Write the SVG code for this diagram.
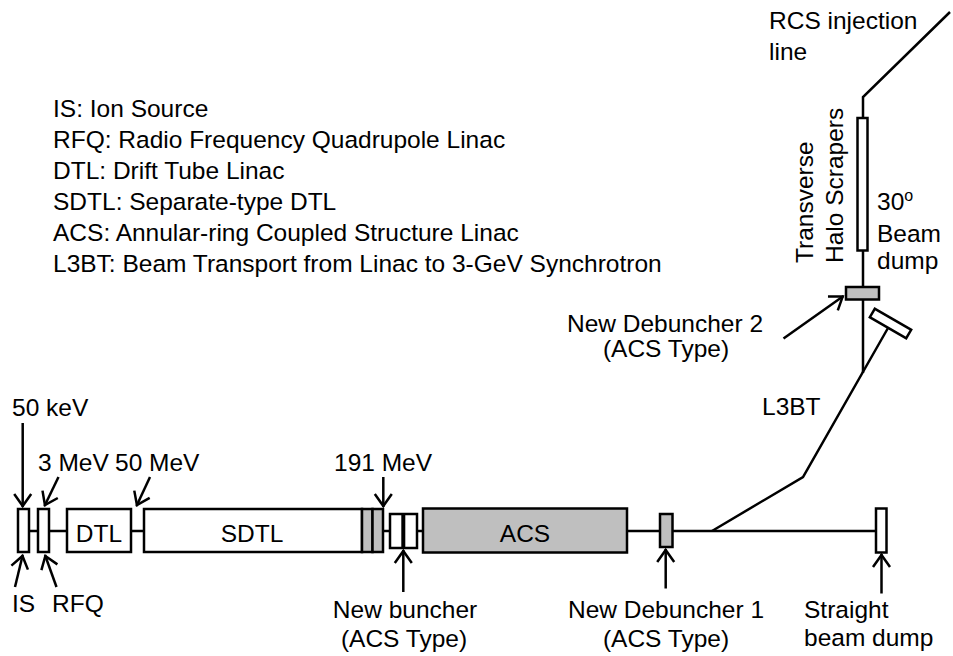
<svg xmlns="http://www.w3.org/2000/svg" width="953" height="656" viewBox="0 0 953 656">
<style>
text{font-family:"Liberation Sans",Arial,sans-serif;font-size:24.5px;fill:#000}
.c{text-anchor:middle}
.w{fill:#fff;stroke:#000;stroke-width:2.5}
.g{fill:#bfbfbf;stroke:#000;stroke-width:2.5}
.ln{fill:none;stroke:#000;stroke-width:2.5}
.ar{fill:none;stroke:#000;stroke-width:2.5;marker-end:url(#ah)}
</style>
<defs>
<marker id="ah" markerUnits="userSpaceOnUse" viewBox="-2 -11 17 22" refX="13" refY="0" markerWidth="17" markerHeight="22" orient="auto">
<path d="M0,-8.5 L12,0 L0,8.5" fill="none" stroke="#000" stroke-width="2.5"/>
</marker>
</defs>
<rect width="953" height="656" fill="#fff"/>
<g id="legend">
<text x="53" y="117">IS: Ion Source</text>
<text x="53" y="148">RFQ: Radio Frequency Quadrupole Linac</text>
<text x="53" y="179">DTL: Drift Tube Linac</text>
<text x="53" y="210">SDTL: Separate-type DTL</text>
<text x="53" y="241">ACS: Annular-ring Coupled Structure Linac</text>
<text x="53" y="271.5">L3BT: Beam Transport from Linac to 3-GeV Synchrotron</text>
</g>
<g id="connectors">
<path class="ln" d="M29,531H38M49,531H67M131,531H144M383,531H390M417,531H423M627,531H660M672.5,531H876"/>
<polyline class="ln" points="712,531 803,477 888,328"/>
<path class="ln" d="M863,373V299.5M863,287V250.5M863,118V97L950,12"/>
<line class="ar" x1="22.7" y1="423" x2="22.7" y2="507"/>
<line class="ar" x1="58.5" y1="477" x2="44.5" y2="506"/>
<line class="ar" x1="150" y1="477" x2="136.5" y2="506"/>
<line class="ar" x1="383.3" y1="477" x2="383.3" y2="507"/>
<line class="ar" x1="15" y1="587" x2="22.7" y2="555"/>
<line class="ar" x1="56.5" y1="587" x2="45" y2="555"/>
<line class="ar" x1="403.3" y1="592" x2="403.3" y2="550"/>
<line class="ar" x1="665.7" y1="588.5" x2="665.7" y2="549"/>
<line class="ar" x1="881.5" y1="593.5" x2="881.5" y2="554"/>
<line class="ar" x1="783.5" y1="338.5" x2="843.5" y2="296"/>
</g>
<g id="IS"><rect class="w" x="18" y="509" width="11" height="43"/></g>
<g id="RFQ"><rect class="w" x="38" y="509" width="11" height="43"/></g>
<g id="DTL"><rect class="w" x="67" y="509" width="64" height="43"/><text class="c" x="99" y="541.5">DTL</text></g>
<g id="SDTL"><rect class="w" x="144" y="509" width="218" height="43"/><rect class="g" x="362" y="509" width="10.5" height="43"/><rect class="g" x="372.5" y="509" width="10.5" height="43"/><text class="c" x="252" y="541.5">SDTL</text></g>
<g id="buncher"><rect class="w" x="390" y="514" width="27" height="34"/><rect x="401.3" y="514" width="4" height="34" fill="#000"/></g>
<g id="ACS"><rect class="g" x="423" y="508.5" width="204" height="44"/><text class="c" x="525" y="541.5">ACS</text></g>
<g id="debuncher1"><rect class="g" x="660" y="514" width="12.5" height="33"/></g>
<g id="straight-dump"><rect class="w" x="876" y="508.5" width="10.5" height="44"/></g>
<g id="debuncher2"><rect class="g" x="846" y="287" width="33" height="12.5"/></g>
<g id="scrapers"><rect class="w" x="857.5" y="118" width="10" height="132.5"/></g>
<g id="dump30"><rect class="w" x="-21" y="-5" width="42" height="10" transform="translate(890.5 323.5) rotate(30)"/></g>
<g id="labels">
<text x="12" y="416">50 keV</text>
<text x="38" y="470.5">3 MeV</text>
<text x="115" y="470.5">50 MeV</text>
<text x="334" y="470.5">191 MeV</text>
<text x="12" y="611.5">IS</text>
<text x="52" y="611.5">RFQ</text>
<text class="c" x="405" y="618">New buncher</text>
<text class="c" x="404" y="647">(ACS Type)</text>
<text class="c" x="666" y="618">New Debuncher 1</text>
<text class="c" x="666" y="647">(ACS Type)</text>
<text x="804" y="618">Straight</text>
<text x="804" y="645.5">beam dump</text>
<text class="c" x="665" y="331.5">New Debuncher 2</text>
<text class="c" x="666" y="357">(ACS Type)</text>
<text x="762" y="415">L3BT</text>
<text x="769" y="28.5">RCS injection</text>
<text x="769" y="60">line</text>
<text transform="translate(813 263) rotate(-90)">Transverse</text>
<text transform="translate(843 263) rotate(-90)">Halo Scrapers</text>
<text x="877" y="210">30<tspan font-size="16" dy="-9">o</tspan></text>
<text x="877" y="241.5">Beam</text>
<text x="877" y="268.5">dump</text>
</g>
</svg>
